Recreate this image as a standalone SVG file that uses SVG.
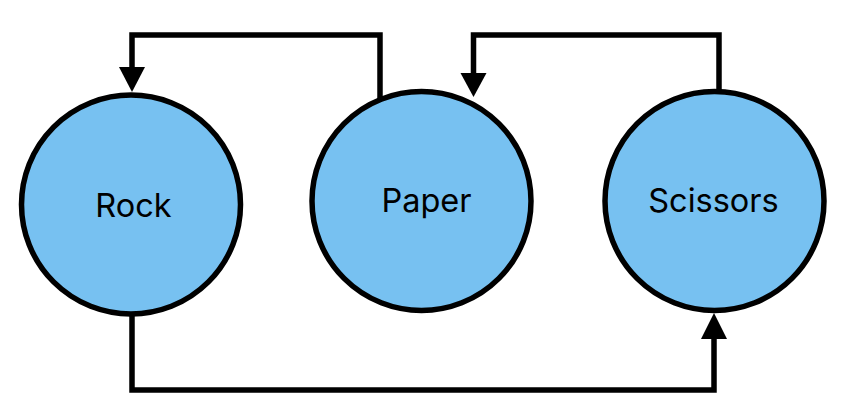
<svg xmlns="http://www.w3.org/2000/svg" width="846" height="416" viewBox="0 0 846 416">
  <style>
    .node circle { fill: #77c1f1; stroke: #000; stroke-width: 5.5; }
    .node text { font-family: Inter, "Liberation Sans", sans-serif; font-size: 32.5px; fill: #000; text-anchor: middle; }
    .conn { fill: none; stroke: #000; stroke-width: 5.5; stroke-linejoin: miter; stroke-linecap: butt; }
    .head { fill: #000; }
  </style>
  <rect width="846" height="416" fill="#fff"/>
  <g id="connectors">
    <path class="conn" d="M380,100 V35 H132 V70"/>
    <polygon class="head" points="119,67 145,67 132,92"/>
    <path class="conn" d="M719,95 V35 H473.5 V76"/>
    <polygon class="head" points="460.5,73 486.5,73 473.5,97"/>
    <path class="conn" d="M132,312 V390 H714 V336"/>
    <polygon class="head" points="701,339 727,339 714,313"/>
  </g>
  <g id="rock" class="node">
    <circle cx="131" cy="204.5" r="109.5"/>
    <text x="133.5" y="216.7">Rock</text>
  </g>
  <g id="paper" class="node">
    <circle cx="421.5" cy="201" r="109.5"/>
    <text x="426.5" y="211.7">Paper</text>
  </g>
  <g id="scissors" class="node">
    <circle cx="714.5" cy="201" r="109.5"/>
    <text x="713.5" y="212">Scissors</text>
  </g>
</svg>
